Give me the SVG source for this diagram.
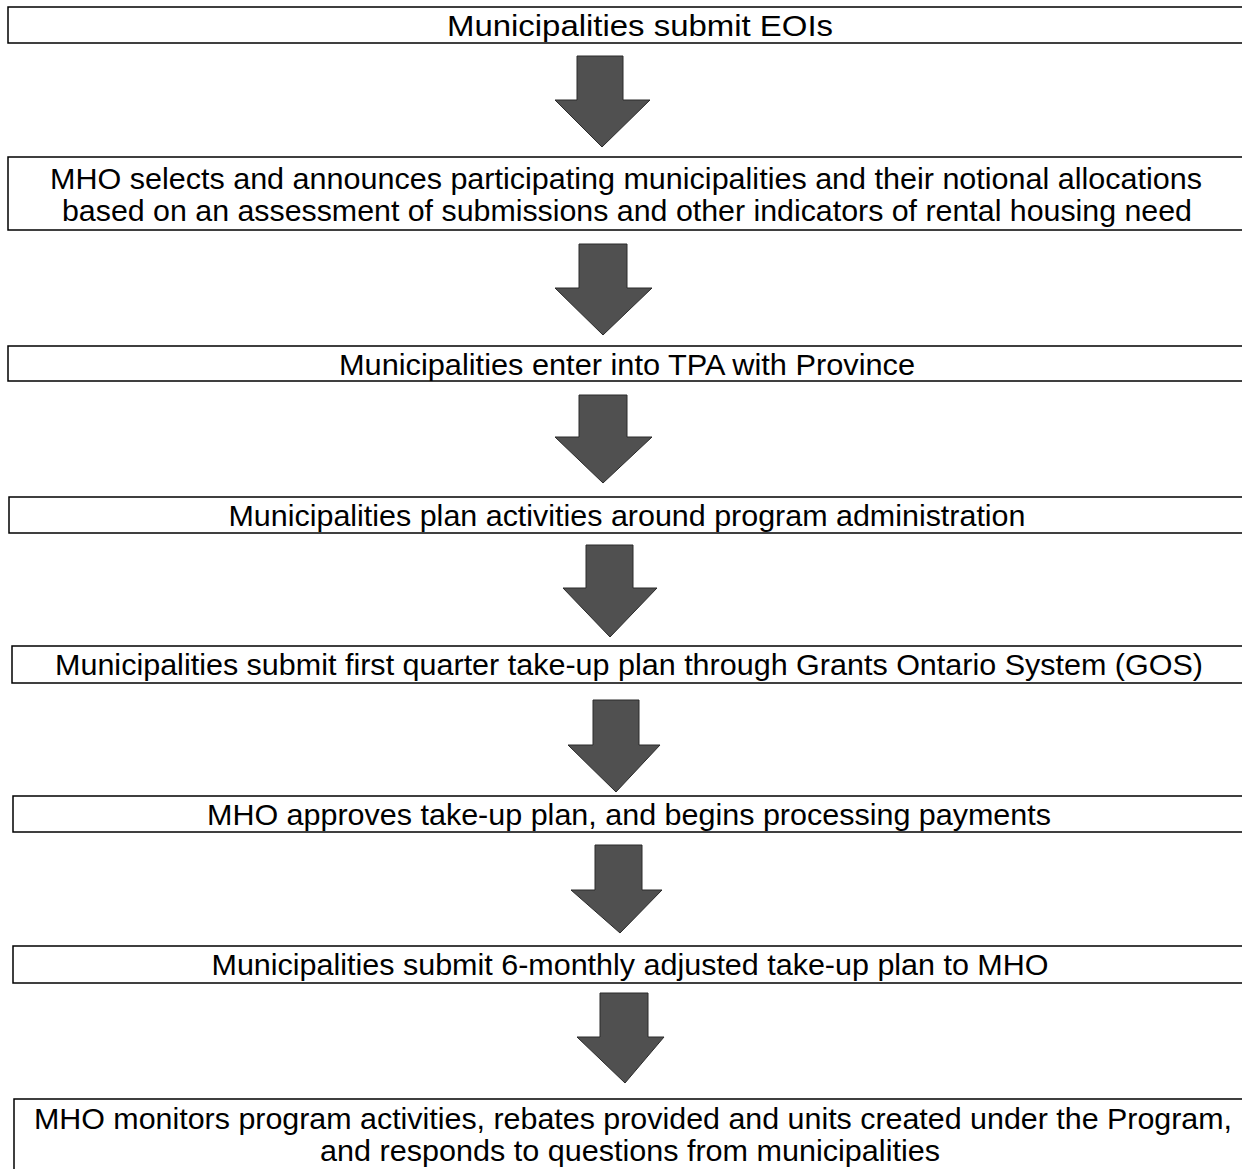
<svg xmlns="http://www.w3.org/2000/svg" width="1242" height="1169" viewBox="0 0 1242 1169">
<style>
.box{fill:#fff;stroke:#000;stroke-width:1.5}
.t{font-family:"Liberation Sans",Arial,sans-serif;font-size:30px;fill:#000;text-anchor:middle}
.arr{fill:#505050;stroke:#2a2a2a;stroke-width:1}
</style>
<rect width="1242" height="1169" fill="#fff"/>
<g id="connectors">
<polygon class="arr" points="577,56 623,56 623,100 650,100 602,147 555,100 577,100"/>
<polygon class="arr" points="579,244 627,244 627,288 652,288 603,335 555,288 579,288"/>
<polygon class="arr" points="579,395 627,395 627,437 652,437 603,483 555,437 579,437"/>
<polygon class="arr" points="586,545 633,545 633,588 657,588 610,637 563,588 586,588"/>
<polygon class="arr" points="593,700 639,700 639,745 660,745 616,792 568,745 593,745"/>
<polygon class="arr" points="595,845 642,845 642,890 662,890 620,933 571,890 595,890"/>
<polygon class="arr" points="600,993 648,993 648,1037 664,1037 625,1083 577,1037 600,1037"/>
</g>
<g id="n1"><rect class="box" x="8" y="7" width="1250" height="36"/><text class="t" x="640" y="36" textLength="386" lengthAdjust="spacingAndGlyphs">Municipalities submit EOIs</text></g>
<g id="n2"><rect class="box" x="8" y="157" width="1250" height="73"/><text class="t" x="626" y="189" textLength="1152" lengthAdjust="spacingAndGlyphs">MHO selects and announces participating municipalities and their notional allocations</text><text class="t" x="627" y="221" textLength="1130" lengthAdjust="spacingAndGlyphs">based on an assessment of submissions and other indicators of rental housing need</text></g>
<g id="n3"><rect class="box" x="8" y="346" width="1250" height="35"/><text class="t" x="627" y="375" textLength="576" lengthAdjust="spacingAndGlyphs">Municipalities enter into TPA with Province</text></g>
<g id="n4"><rect class="box" x="9" y="497" width="1250" height="36"/><text class="t" x="627" y="526" textLength="797" lengthAdjust="spacingAndGlyphs">Municipalities plan activities around program administration</text></g>
<g id="n5"><rect class="box" x="12" y="646" width="1250" height="37"/><text class="t" x="629" y="675" textLength="1148" lengthAdjust="spacingAndGlyphs">Municipalities submit first quarter take-up plan through Grants Ontario System (GOS)</text></g>
<g id="n6"><rect class="box" x="13" y="796" width="1250" height="36"/><text class="t" x="629" y="825" textLength="844" lengthAdjust="spacingAndGlyphs">MHO approves take-up plan, and begins processing payments</text></g>
<g id="n7"><rect class="box" x="13" y="946" width="1250" height="37"/><text class="t" x="630" y="975" textLength="837" lengthAdjust="spacingAndGlyphs">Municipalities submit 6-monthly adjusted take-up plan to MHO</text></g>
<g id="n8"><rect class="box" x="14" y="1099" width="1250" height="90"/><text class="t" x="633" y="1129" textLength="1198" lengthAdjust="spacingAndGlyphs">MHO monitors program activities, rebates provided and units created under the Program,</text><text class="t" x="630" y="1161" textLength="620" lengthAdjust="spacingAndGlyphs">and responds to questions from municipalities</text></g>
</svg>
